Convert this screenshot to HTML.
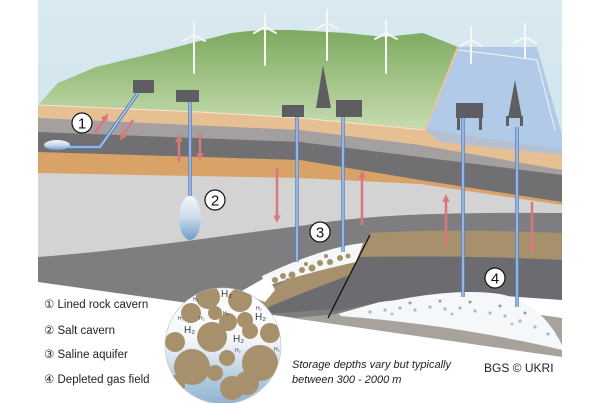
<!DOCTYPE html>
<html><head><meta charset="utf-8"><style>
html,body{margin:0;padding:0;background:#fff;}
svg{display:block;}
text{font-family:"Liberation Sans",sans-serif;}
</style></head><body>
<svg width="600" height="403" viewBox="0 0 600 403" xmlns="http://www.w3.org/2000/svg">
<defs>
<linearGradient id="hill" x1="0" y1="0" x2="0" y2="1"><stop offset="0" stop-color="#7daa5f"/><stop offset="1" stop-color="#c7ddb0"/></linearGradient>
<linearGradient id="sky" x1="0" y1="0" x2="0" y2="1"><stop offset="0" stop-color="#d9e9f0"/><stop offset="1" stop-color="#c8dfe9"/></linearGradient>
<linearGradient id="mag" x1="0" y1="0" x2="0" y2="1"><stop offset="0" stop-color="#ffffff"/><stop offset="0.45" stop-color="#f4f7fa"/><stop offset="0.75" stop-color="#b7cfe2"/><stop offset="1" stop-color="#8fb3d2"/></linearGradient>
<linearGradient id="cav" x1="0" y1="0" x2="0" y2="1"><stop offset="0" stop-color="#f4f7fb"/><stop offset="0.5" stop-color="#c9daea"/><stop offset="1" stop-color="#6f9cc8"/></linearGradient>
<marker id="ah" markerWidth="3" markerHeight="3" refX="1.5" refY="1.5" orient="auto" markerUnits="strokeWidth"><path d="M0,0 L3,1.5 L0,3 Z" fill="#d9777b"/></marker>
<clipPath id="mc"><circle cx="223" cy="346" r="58"/></clipPath>
</defs>
<rect x="38" y="0" width="524" height="300" fill="url(#sky)"/>
<path d="M38,105 L200,112 L300,118 L420,128 L562,150 L562,403 L38,403Z" fill="#e6bf93"/>
<path d="M38,118 L300,130 L420,145 L562,170 L562,403 L38,403Z" fill="#a3a09f"/>
<path d="M38,132 L300,142 L420,157 L562,175 L562,403 L38,403Z" fill="#707073"/>
<path d="M38,152 L300,160 L420,180 L562,202 L562,403 L38,403Z" fill="#d9a368"/>
<path d="M38,173 L300,178 L420,184 L562,205 L562,403 L38,403Z" fill="#d3d3d4"/>
<path d="M38,257 C130,250 220,236 300,226 C360,216 420,212 562,213 L562,403 L38,403Z" fill="#7e7e81"/>
<!-- right of fault -->
<path d="M371,233 C420,230 480,230 562,233 L562,260 C480,256 420,256 359,257Z" fill="#a6916c"/>
<path d="M359,257 C420,256 480,256 562,260 L562,300 L460,293 L380,302 L331,312Z" fill="#6c6c70"/>
<!-- white bottom -->
<path d="M38,282 L295,318 L330,316 L380,302 L460,293 L562,300 L562,403 L38,403Z" fill="#fff"/>
<path d="M292,318 L400,309 L480,306 L562,318 L562,357 Z" fill="#a8a29c"/>
<path d="M340,314 C400,296 460,288 500,294 C530,300 550,320 562,345 L562,350 C500,335 420,322 340,316Z" fill="#f5f7f9"/>
<g fill="#8eaed0" opacity="0.8">
<circle cx="370" cy="312" r="1.6"/><circle cx="385" cy="310" r="1.6"/><circle cx="400" cy="308" r="1.6"/><circle cx="415" cy="310" r="1.6"/><circle cx="430" cy="307" r="1.6"/><circle cx="445" cy="309" r="1.6"/><circle cx="460" cy="308" r="1.6"/><circle cx="475" cy="311" r="1.6"/><circle cx="490" cy="313" r="1.6"/><circle cx="505" cy="316" r="1.6"/><circle cx="520" cy="321" r="1.6"/><circle cx="535" cy="327" r="1.6"/><circle cx="548" cy="334" r="1.6"/><circle cx="392" cy="314" r="1.4"/><circle cx="452" cy="314" r="1.4"/><circle cx="512" cy="324" r="1.4"/>
</g>
<g fill="#a09a94"><circle cx="410" cy="303" r="1.5"/><circle cx="440" cy="301" r="1.5"/><circle cx="470" cy="302" r="1.5"/><circle cx="500" cy="306" r="1.5"/><circle cx="525" cy="313" r="1.5"/></g>
<!-- aquifer left of fault -->
<path d="M245,300 C290,280 330,258 368,240 L350,275 C310,290 280,302 250,315Z" fill="#a6916c"/>
<path d="M250,315 C280,302 310,290 350,275 L333,309 C300,312 270,313 255,316Z" fill="#6c6c70"/>
<path d="M262,276 C300,258 335,246 363,243 L356,262 C320,270 290,278 265,287Z" fill="#f5f7f9"/>
<g fill="#a6916c">
<circle cx="275" cy="280" r="3"/><circle cx="283" cy="276" r="3"/><circle cx="292" cy="275" r="3.5"/><circle cx="302" cy="270" r="3"/><circle cx="312" cy="268" r="3.5"/><circle cx="320" cy="263" r="3"/><circle cx="330" cy="262" r="3"/><circle cx="340" cy="258" r="3"/><circle cx="348" cy="256" r="2.5"/><circle cx="326" cy="256" r="2"/><circle cx="306" cy="264" r="2"/><circle cx="288" cy="281" r="3"/><circle cx="298" cy="280" r="2.5"/>
</g>
<path d="M370,235 L328,318" stroke="#111" stroke-width="1.3"/>
<!-- hill -->
<path d="M38,105 L58,83 L96,67 L154,53 L192,43 L231,33 L260,30 L292,30 L346,33 L385,37 L423,33 L458,47 L440,95 L425,130 L420,128 L300,118 L200,112 Z" fill="url(#hill)"/>
<path d="M38,105 L200,112 L300,118 L425,130" stroke="#f4e8cf" stroke-width="1" fill="none"/>
<!-- sea -->
<path d="M458,47 L537,47 L562,135 L562,155 L440,142 L425,130Z" fill="#a6c0e6" opacity="0.75"/>
<path d="M458,50 L500,55 L537,60 L555,130" stroke="#eef4fb" stroke-width="1" fill="none"/>
<path d="M458,47 L425,130" stroke="#e9c59b" stroke-width="2" fill="none"/>
<g stroke="#f4f6f7" stroke-width="2" fill="none" stroke-linecap="round">
<path d="M194,35 L194,73 M194,35 L194,22 M194,35 L183,41 M194,35 L205,41"/>
<path d="M265,27 L265,65 M265,27 L265,14 M265,27 L254,33 M265,27 L276,33"/>
<path d="M327,23 L327,60 M327,23 L327,10 M327,23 L316,29 M327,23 L338,29"/>
<path d="M386,33 L386,73 M386,33 L386,20 M386,33 L375,39 M386,33 L397,39"/>
<path d="M471,40 L471,63 M471,40 L471,27 M471,40 L460,46 M471,40 L482,46"/>
<path d="M525,37 L525,58 M525,37 L525,24 M525,37 L514,43 M525,37 L536,43"/>
</g>
<g fill="none">
<path d="M138,93 L100,147 L63,147" stroke="#5a84c2" stroke-width="3.5"/>
<path d="M138,93 L100,147 L63,147" stroke="#d6e4f5" stroke-width="1"/>
<path d="M190,102 L190,196 M297,117 L297,262 M343,117 L343,252 M463,118 L463,297 M517,127 L517,307" stroke="#5a84c2" stroke-width="3.5"/>
<path d="M190,102 L190,196 M297,117 L297,262 M343,117 L343,252 M463,118 L463,297 M517,127 L517,307" stroke="#d6e4f5" stroke-width="1"/>
</g>
<ellipse cx="57" cy="145" rx="13" ry="5" fill="url(#cav)"/>
<ellipse cx="190" cy="218" rx="11" ry="22" fill="url(#cav)"/>
<g fill="#5e5e62">
<rect x="133" y="80" width="21" height="13"/><rect x="176" y="90" width="23" height="12"/>
<rect x="282" y="105" width="22" height="12"/><rect x="336" y="100" width="26" height="17"/>
<rect x="456" y="103" width="27" height="15"/><rect x="457" y="117" width="3" height="13"/><rect x="479" y="117" width="3" height="13"/>
<path d="M323,65 L316,108 L331,108Z"/>
<path d="M515,80 L508,118 L522,118Z"/><rect x="506" y="116" width="3" height="10"/><rect x="520" y="116" width="3" height="10"/>
</g>
<g stroke="#d9777b" stroke-width="2.5" fill="none" marker-end="url(#ah)">
<path d="M95,133 L106,117"/><path d="M133,120 L122,137"/>
<path d="M179,162 L179,138"/><path d="M200,133 L200,157"/>
<path d="M277,168 L277,219"/><path d="M362,225 L362,174"/>
<path d="M446,247 L446,198"/><path d="M532,202 L532,249"/>
</g>
<g font-size="15" text-anchor="middle" fill="#111">
<circle cx="82" cy="123" r="10" fill="#fff" stroke="#111" stroke-width="1.2"/><text x="82" y="128.5">1</text>
<circle cx="215" cy="200" r="10" fill="#fff" stroke="#111" stroke-width="1.2"/><text x="215" y="205.5">2</text>
<circle cx="320" cy="232" r="10" fill="#fff" stroke="#111" stroke-width="1.2"/><text x="320" y="237.5">3</text>
<circle cx="495" cy="278" r="10" fill="#fff" stroke="#111" stroke-width="1.2"/><text x="495" y="283.5">4</text>
</g>
<path d="M240,292 L268,276 L275,290 L265,302Z" fill="#fff"/>
<circle cx="223" cy="346" r="58" fill="url(#mag)" stroke="#ccc" stroke-width="0.8"/>
<g clip-path="url(#mc)" fill="#a6916c">
<circle cx="208" cy="297" r="12"/><circle cx="240" cy="300" r="12"/><circle cx="191" cy="313" r="10"/><circle cx="215" cy="313" r="7"/><circle cx="228" cy="322" r="9"/><circle cx="245" cy="320" r="8"/><circle cx="250" cy="331" r="8"/><circle cx="270" cy="333" r="10"/><circle cx="212" cy="337" r="15"/><circle cx="175" cy="342" r="10"/><circle cx="192" cy="367" r="18"/><circle cx="227" cy="358" r="8"/><circle cx="215" cy="373" r="8"/><circle cx="260" cy="363" r="18"/><circle cx="232" cy="388" r="12"/><circle cx="247" cy="383" r="12"/><circle cx="175" cy="385" r="10"/>
</g>
<g fill="#3a3a4a">
<text x="221" y="297" font-size="10">H₂</text><text x="255" y="320" font-size="10">H₂</text><text x="184" y="333" font-size="10">H₂</text><text x="233" y="342" font-size="10">H₂</text>
<text x="193" y="301" font-size="5">H₂</text><text x="223" y="315" font-size="5">H₂</text><text x="178" y="320" font-size="5">H₂</text><text x="199" y="320" font-size="5">H₂</text><text x="256" y="310" font-size="5">H₂</text><text x="235" y="352" font-size="5">H₂</text><text x="274" y="351" font-size="5">H₂</text>
</g>
<g font-size="11.5" fill="#222">
<text x="44" y="308">① Lined rock cavern</text>
<text x="44" y="334">② Salt cavern</text>
<text x="44" y="358">③ Saline aquifer</text>
<text x="44" y="383">④ Depleted gas field</text>
</g>
<g font-size="11" font-style="italic" fill="#222">
<text x="292" y="368">Storage depths vary but typically</text>
<text x="292" y="383">between 300 - 2000 m</text>
</g>
<text x="484" y="372" font-size="12" fill="#222">BGS © UKRI</text>
</svg>
</body></html>
